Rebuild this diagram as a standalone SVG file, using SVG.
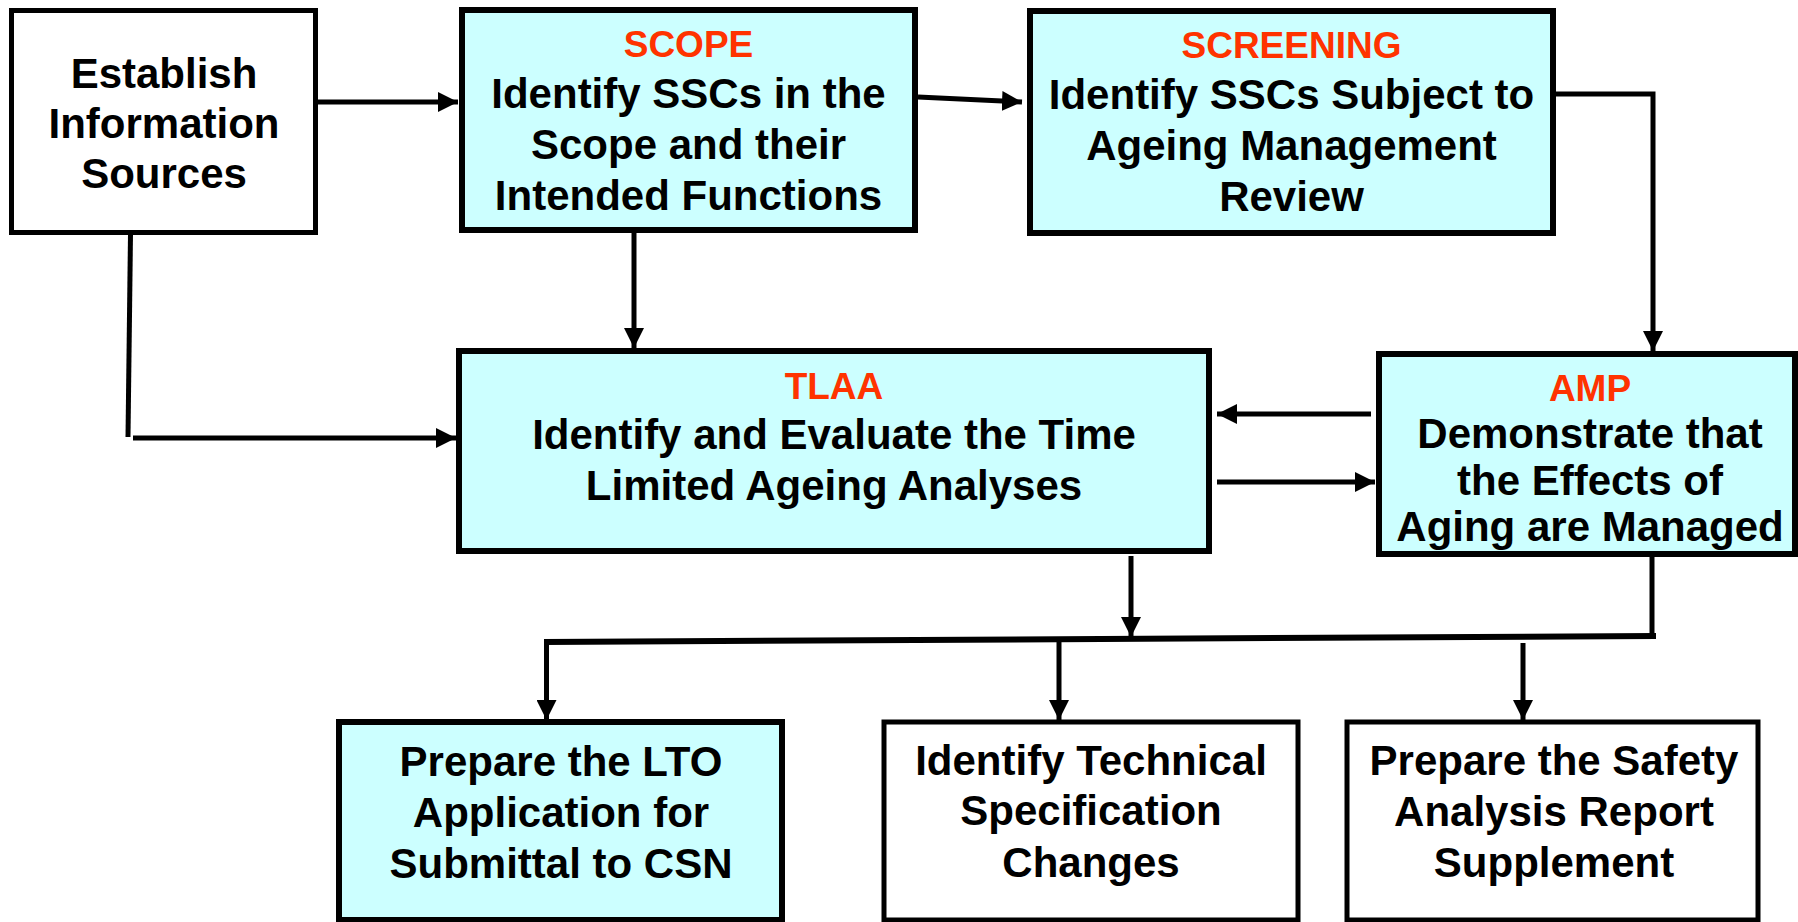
<svg xmlns="http://www.w3.org/2000/svg" width="1798" height="922" viewBox="0 0 1798 922">
<style>
  .box { stroke: #000; stroke-width: 6; }
  .white { fill: #FFFFFF; stroke-width: 5; }
  .cyan { fill: #CCFFFF; }
  text { font-family: "Liberation Sans", Arial, sans-serif; font-weight: bold; text-anchor: middle; fill: #000; }
  .t { font-size: 42px; }
  .h { font-size: 37px; fill: #FF3300; }
  .c { fill: none; stroke: #000; stroke-width: 5; }
</style>
<defs>
  <marker id="ah" markerUnits="userSpaceOnUse" viewBox="0 0 20 20" refX="20" refY="10" markerWidth="20" markerHeight="20" orient="auto">
    <path d="M0,0 L20,10 L0,20 Z" fill="#000"/>
  </marker>
</defs>
<rect width="1798" height="922" fill="#FFFFFF"/>

<g id="establish">
  <rect class="box white" x="11.5" y="10.5" width="304" height="222"/>
  <text class="t" x="164" y="88">Establish</text>
  <text class="t" x="164" y="138">Information</text>
  <text class="t" x="164" y="188">Sources</text>
</g>

<g id="scope">
  <rect class="box cyan" x="462" y="10" width="453" height="220"/>
  <text class="h" x="688.5" y="57">SCOPE</text>
  <text class="t" x="688.5" y="108">Identify SSCs in the</text>
  <text class="t" x="688.5" y="159">Scope and their</text>
  <text class="t" x="688.5" y="210">Intended Functions</text>
</g>

<g id="screening">
  <rect class="box cyan" x="1030" y="11" width="523" height="222"/>
  <text class="h" x="1291.5" y="58">SCREENING</text>
  <text class="t" x="1291.5" y="109">Identify SSCs Subject to</text>
  <text class="t" x="1291.5" y="160">Ageing Management</text>
  <text class="t" x="1291.5" y="211">Review</text>
</g>

<g id="tlaa">
  <rect class="box cyan" x="459" y="351" width="750" height="200"/>
  <text class="h" x="834" y="399">TLAA</text>
  <text class="t" x="834" y="449">Identify and Evaluate the Time</text>
  <text class="t" x="834" y="500">Limited Ageing Analyses</text>
</g>

<g id="amp">
  <rect class="box cyan" x="1379" y="354" width="416" height="200"/>
  <text class="h" x="1590" y="401">AMP</text>
  <text class="t" x="1590" y="448">Demonstrate that</text>
  <text class="t" x="1590" y="495">the Effects of</text>
  <text class="t" x="1590" y="541">Aging are Managed</text>
</g>

<g id="lto">
  <rect class="box cyan" x="339" y="722" width="443" height="198"/>
  <text class="t" x="561" y="776">Prepare the LTO</text>
  <text class="t" x="561" y="827">Application for</text>
  <text class="t" x="561" y="878">Submittal to CSN</text>
</g>

<g id="techspec">
  <rect class="box white" x="884" y="722" width="414" height="198"/>
  <text class="t" x="1091" y="775">Identify Technical</text>
  <text class="t" x="1091" y="825">Specification</text>
  <text class="t" x="1091" y="877">Changes</text>
</g>

<g id="sar">
  <rect class="box white" x="1347" y="722" width="411" height="198"/>
  <text class="t" x="1554" y="775">Prepare the Safety</text>
  <text class="t" x="1554" y="826">Analysis Report</text>
  <text class="t" x="1554" y="877">Supplement</text>
</g>

<g id="connectors">
  <line class="c" x1="318" y1="102" x2="458" y2="102" marker-end="url(#ah)"/>
  <line class="c" x1="918" y1="97" x2="1022" y2="102" marker-end="url(#ah)"/>
  <polyline class="c" points="1555,94 1653,94 1653,351" marker-end="url(#ah)"/>
  <line class="c" x1="634" y1="233" x2="634" y2="348" marker-end="url(#ah)"/>
  <line class="c" x1="130.5" y1="234" x2="128" y2="437"/>
  <line class="c" x1="133" y1="438" x2="456" y2="438" marker-end="url(#ah)"/>
  <line class="c" x1="1371" y1="414" x2="1217" y2="414" marker-end="url(#ah)"/>
  <line class="c" x1="1217" y1="482" x2="1375" y2="482" marker-end="url(#ah)"/>
  <line class="c" x1="1131" y1="556" x2="1131" y2="637" marker-end="url(#ah)"/>
  <line class="c" x1="1652" y1="556" x2="1652" y2="639"/>
  <line class="c" x1="544" y1="642" x2="1656" y2="636" style="stroke-width:6"/>
  <line class="c" x1="546.5" y1="642" x2="546.5" y2="720" marker-end="url(#ah)"/>
  <line class="c" x1="1059" y1="641" x2="1059" y2="720" marker-end="url(#ah)"/>
  <line class="c" x1="1523" y1="643" x2="1523" y2="720" marker-end="url(#ah)"/>
</g>
</svg>
